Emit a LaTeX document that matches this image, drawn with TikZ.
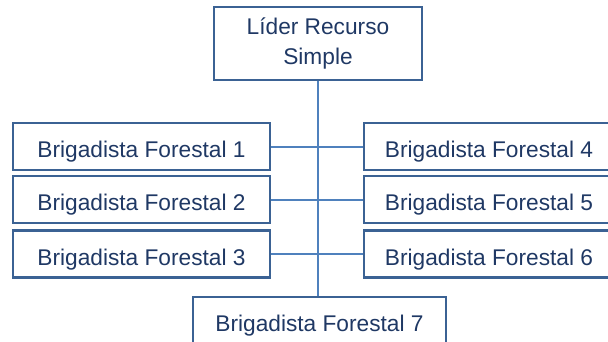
\documentclass[tikz,border=0pt]{standalone}
\usepackage{fontspec}
\setmainfont{Liberation Sans}
\usetikzlibrary{positioning}
\definecolor{boxBlue}{HTML}{3B6294}
\definecolor{lineBlue}{HTML}{4F81BD}
\definecolor{textBlue}{HTML}{1F3864}

\begin{document}
\begin{tikzpicture}[x=1pt,y=1pt,
  brig/.style={draw=boxBlue,line width=2.4pt,minimum width=257pt,minimum height=47pt,
    inner sep=0pt,text height=22pt,text depth=0pt,text=textBlue,
    font=\fontsize{22.7}{30}\selectfont},
  lead/.style={draw=boxBlue,line width=2.4pt,minimum width=208pt,minimum height=73pt,
    inner sep=0pt,align=center,text=textBlue,font=\fontsize{22.7}{30}\selectfont},
  link/.style={draw=lineBlue,line width=2pt}]
\useasboundingbox (0,0) rectangle (608,-341);
\node[lead] (lider) at (318,-43.5) {Líder Recurso\\Simple};
\foreach \i/\j/\y in {1/4/146.5,2/5/199.5,3/6/254}{
  \node[brig] (b\i) at (141.5,-\y) {Brigadista Forestal \i};
  \node[brig,minimum width=250pt] (b\j) at (489,-\y) {Brigadista Forestal \j};
  \draw[link] (b\i.east) -- (b\j.west);
}
\node[brig,minimum width=253pt] (b7) at (319.5,-320.5) {Brigadista Forestal 7};
\draw[link] (lider.south) -- (lider.south |- b7.north);
\end{tikzpicture}
\end{document}
